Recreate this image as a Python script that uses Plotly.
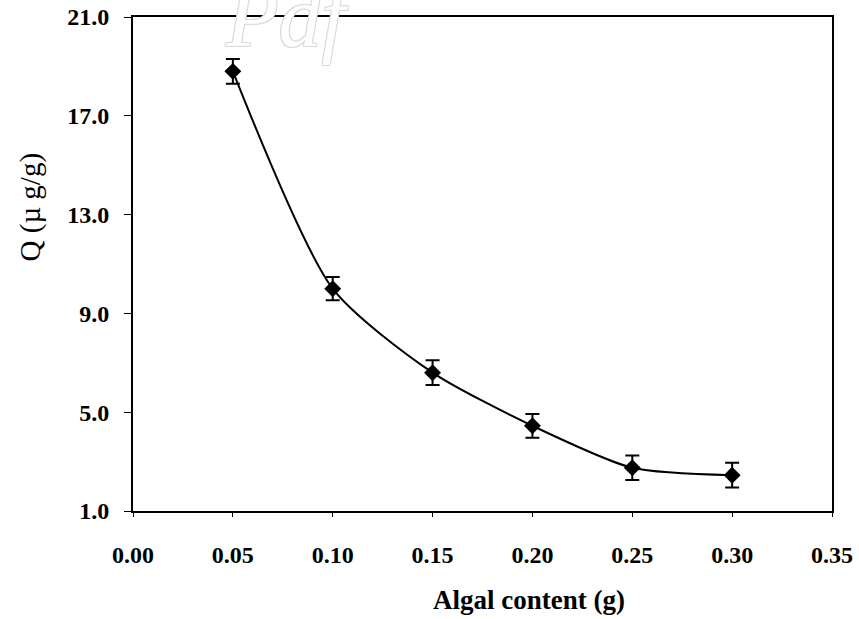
import plotly.graph_objects as go

# Adsorbed amount Q versus algal biomass
algal_content = [0.05, 0.10, 0.15, 0.20, 0.25, 0.30]
q_values = [18.8, 10.0, 6.6, 4.45, 2.75, 2.45]
q_errors = [0.5, 0.47, 0.5, 0.48, 0.5, 0.5]

x_ticks = [0.00, 0.05, 0.10, 0.15, 0.20, 0.25, 0.30, 0.35]
y_ticks = [1.0, 5.0, 9.0, 13.0, 17.0, 21.0]

serif = "Liberation Serif, Times New Roman, serif"

fig = go.Figure()
fig.add_trace(go.Scatter(
    x=algal_content,
    y=q_values,
    mode="lines+markers",
    line=dict(color="black", width=2, shape="spline", smoothing=0.7),
    marker=dict(symbol="diamond", size=13, color="black"),
    error_y=dict(type="data", array=q_errors, visible=True,
                 color="black", thickness=2, width=7),
    showlegend=False,
))

fig.update_layout(
    width=859, height=619,
    margin=dict(l=133, r=27, t=17, b=108),
    paper_bgcolor="white", plot_bgcolor="white",
    font=dict(family=serif, color="black"),
    xaxis=dict(
        range=[0, 0.35], tickvals=x_ticks, tickformat=".2f",
        showline=True, linecolor="black", linewidth=2, mirror=True,
        ticks="outside", ticklen=4, tickcolor="black", tickwidth=1,
        ticklabelstandoff=17, showgrid=False, zeroline=False,
        automargin=False,
        tickfont=dict(family=serif, size=24, weight="bold"),
    ),
    yaxis=dict(
        range=[1, 21], tickvals=y_ticks, tickformat=".1f",
        showline=True, linecolor="black", linewidth=2, mirror=True,
        ticks="outside", ticklen=7, tickcolor="black", tickwidth=1,
        ticklabelstandoff=10, showgrid=False, zeroline=False,
        automargin=False,
        tickfont=dict(family=serif, size=24, weight="bold"),
    ),
    annotations=[
        dict(text="Algal content (g)", xref="paper", yref="paper",
             x=0.566, y=-0.18, xanchor="center", yanchor="middle",
             showarrow=False,
             font=dict(family=serif, size=27, weight="bold")),
        dict(text="Q (\u00b5 g/g)", xref="paper", yref="paper",
             x=-0.147, y=0.615, xanchor="center", yanchor="middle",
             textangle=-90, showarrow=False,
             font=dict(family=serif, size=29)),
        dict(text="Pdf", xref="paper", yref="paper",
             x=0.225, y=1.0, xanchor="center", yanchor="middle",
             showarrow=False,
             font=dict(family=serif, size=86, style="italic",
                       color="white",
                       shadow="1px 1px 0 #d9d9d9, -1px -1px 0 #d9d9d9, "
                              "1px -1px 0 #d9d9d9, -1px 1px 0 #d9d9d9")),
    ],
)

fig.write_html("out.html")
